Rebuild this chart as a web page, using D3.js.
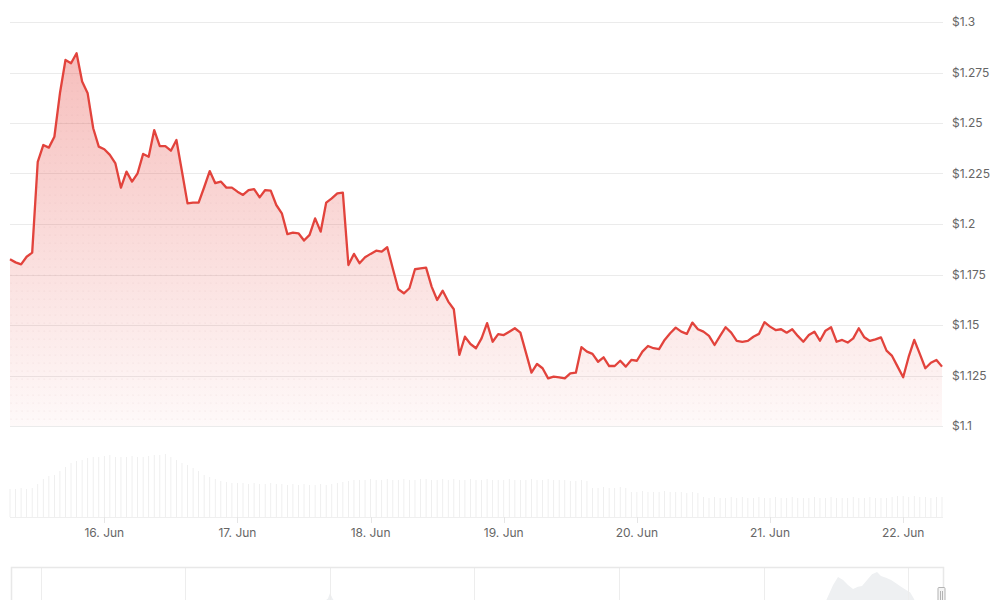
<!DOCTYPE html>
<html>
<head>
<meta charset="utf-8">
<script src="https://cdn.jsdelivr.net/npm/d3@7"></script>
<style>
  body { margin: 0; background: #fff; }
  svg { display: block; font-family: Inter, "Noto Sans", sans-serif; }
</style>
</head>
<body>
<div id="svg-area"></div>
<script>
var svgWidth = 1000;
var svgHeight = 600;

// hourly samples, first one at 15 Jun 07:00 UTC
var startTime = Date.UTC(2025, 5, 15, 7);

var prices = [
  1.1825, 1.181, 1.180, 1.1838, 1.1858, 1.2308, 1.2391, 1.2378, 1.2432, 1.2647,
  1.2812, 1.2796, 1.2845, 1.2705, 1.2647, 1.2474, 1.2383, 1.237, 1.2342, 1.230,
  1.218, 1.2259, 1.221, 1.2251, 1.2347, 1.2333, 1.2465, 1.2386, 1.2386, 1.2363,
  1.2416, 1.226, 1.2102, 1.2106, 1.2106, 1.2182, 1.2262, 1.2202, 1.221, 1.218,
  1.218, 1.216, 1.2144, 1.2168, 1.2173, 1.2132, 1.2168, 1.2165, 1.2094, 1.2053,
  1.195, 1.1957, 1.1954, 1.1918, 1.1946, 1.2028, 1.1962, 1.2106, 1.2127, 1.2152,
  1.2155, 1.1797, 1.1852, 1.1806, 1.1835, 1.1852, 1.1868, 1.1863, 1.1885, 1.178,
  1.1677, 1.1657, 1.1682, 1.1776, 1.178, 1.1784, 1.169, 1.1624, 1.167, 1.1616,
  1.1578, 1.1352, 1.1442, 1.1406, 1.1385, 1.1434, 1.1509, 1.1417, 1.1455, 1.145,
  1.1467, 1.1484, 1.1462, 1.1363, 1.1264, 1.1307, 1.1286, 1.1236, 1.1244, 1.1241,
  1.1236, 1.1261, 1.1264, 1.139, 1.1368, 1.1357, 1.1318, 1.134, 1.1297, 1.1297,
  1.1323, 1.1294, 1.1327, 1.1323, 1.1368, 1.1396, 1.1385, 1.1381, 1.1426, 1.1459,
  1.1487, 1.1467, 1.1456, 1.1512, 1.1479, 1.1467, 1.1446, 1.1401, 1.1446, 1.1489,
  1.1462, 1.1421, 1.1417, 1.1421, 1.1442, 1.1456, 1.1514, 1.1492, 1.1475, 1.1479,
  1.1462, 1.1479, 1.1446, 1.1417, 1.145, 1.1467, 1.1422, 1.1472, 1.1489, 1.1417,
  1.1426, 1.1413, 1.1434, 1.1484, 1.1439, 1.1421, 1.1429, 1.1439, 1.1373, 1.1347,
  1.1294, 1.1241, 1.1343, 1.1426, 1.1357, 1.1286, 1.1313, 1.1327, 1.1294
];

// volume (M), same hours as prices
var volumes = [
  28, 28, 29, 28, 29, 33, 38, 41, 42, 46,
  50, 54, 56, 57, 59, 60, 60, 61, 62, 60,
  60, 60, 61, 60, 60, 61, 62, 62, 63, 60,
  57, 54, 52, 49, 46, 42, 40, 38, 36, 35,
  34, 34, 34, 33, 34, 33, 33, 34, 33, 33,
  32, 33, 32, 33, 32, 32, 33, 32, 33, 34,
  35, 36, 37, 37, 37, 38, 37, 37, 38, 37,
  37, 38, 37, 37, 38, 38, 37, 37, 38, 37,
  38, 37, 37, 38, 37, 37, 38, 37, 37, 37,
  38, 37, 37, 37, 38, 37, 37, 38, 37, 37,
  37, 36, 36, 37, 36, 29, 29, 30, 29, 29,
  30, 29, 25, 25, 26, 25, 25, 25, 26, 25,
  25, 25, 24, 25, 24, 20, 19, 20, 19, 19,
  20, 19, 20, 19, 19, 20, 19, 19, 20, 19,
  19, 20, 19, 19, 19, 20, 19, 19, 20, 19,
  19, 19, 20, 19, 19, 20, 19, 19, 19, 20,
  21, 21, 20, 21, 20, 20, 19, 20, 20
];

var priceTicks = [1.1, 1.125, 1.15, 1.175, 1.2, 1.225, 1.25, 1.275, 1.3];
var dayTicks = ["2025-06-16", "2025-06-17", "2025-06-18", "2025-06-19", "2025-06-20", "2025-06-21", "2025-06-22"];

// navigator: long history (fractional years) and its grid
var navYears = [2018.795, 2020.10, 2020.93, 2020.987, 2021.001, 2021.022, 2021.07, 2022.18, 2023.56, 2024.39,
  2024.431, 2024.48, 2024.514, 2024.549, 2024.583, 2024.618, 2024.652, 2024.68, 2024.715, 2024.749,
  2024.784, 2024.811, 2024.846, 2024.881, 2024.915, 2024.95, 2024.985, 2025.012, 2025.033, 2025.054,
  2025.116, 2025.24];
var navValues = [0.1, 0.1, 0.15, 0.3, 0.42, 0.28, 0.15, 0.1, 0.1, 0.12,
  0.25, 0.6, 0.78, 0.71, 0.6, 0.51, 0.56, 0.58, 0.71, 0.84,
  0.89, 0.8, 0.76, 0.71, 0.64, 0.56, 0.49, 0.44, 0.33, 0.2,
  0.1, 0.1];
var navGrid = [2019, 2020, 2021, 2022, 2023, 2024, 2025];

var data = prices.map(function(p, i) {
  return { date: new Date(startTime + i * 3600e3), price: p, volume: volumes[i] };
});

var svg = d3.select("#svg-area")
  .append("svg")
  .attr("width", svgWidth)
  .attr("height", svgHeight);

var left = 10, right = 942;

var x = d3.scaleUtc()
  .domain([data[0].date, data[data.length - 1].date])
  .range([left, right]);

var y = d3.scaleLinear().domain([1.1, 1.3]).range([426, 22]);
var yVol = d3.scaleLinear().domain([0, 65]).range([517, 452]);

var defs = svg.append("defs");
var grad = defs.append("linearGradient")
  .attr("id", "fillGrad")
  .attr("gradientUnits", "userSpaceOnUse")
  .attr("x1", 0).attr("x2", 0)
  .attr("y1", y(1.285)).attr("y2", y(1.1));
grad.append("stop").attr("offset", 0).attr("stop-color", "#e5403a").attr("stop-opacity", 0.34);
grad.append("stop").attr("offset", 1).attr("stop-color", "#e5403a").attr("stop-opacity", 0.03);

var dots = defs.append("pattern")
  .attr("id", "dots")
  .attr("patternUnits", "userSpaceOnUse")
  .attr("x", left).attr("y", 2)
  .attr("width", x(data[1].date) - x(data[0].date))
  .attr("height", 8);
dots.append("circle").attr("cx", 1).attr("cy", 1).attr("r", 0.6).attr("fill", "rgba(160,110,110,0.16)");

// grid + price axis labels
var grid = svg.append("g");
grid.selectAll("line")
  .data(priceTicks)
  .enter().append("line")
  .attr("x1", left).attr("x2", right + 1)
  .attr("y1", function(d) { return Math.round(y(d)) + 0.5; })
  .attr("y2", function(d) { return Math.round(y(d)) + 0.5; })
  .attr("stroke", "#ebebeb");

grid.selectAll("text")
  .data(priceTicks)
  .enter().append("text")
  .attr("x", 952)
  .attr("y", function(d) { return y(d); })
  .attr("dy", "0.35em")
  .attr("font-size", 12)
  .attr("fill", "#666")
  .text(function(d) { return "$" + (+d.toFixed(3)); });

// area + line
var area = d3.area()
  .x(function(d) { return x(d.date); })
  .y0(y(1.1))
  .y1(function(d) { return y(d.price); });

svg.append("path").datum(data).attr("d", area).attr("fill", "url(#fillGrad)");
svg.append("path").datum(data).attr("d", area).attr("fill", "url(#dots)");

var line = d3.line()
  .x(function(d) { return x(d.date); })
  .y(function(d) { return y(d.price); });

svg.append("path").datum(data)
  .attr("d", line)
  .attr("fill", "none")
  .attr("stroke", "#e2433c")
  .attr("stroke-width", 2.3)
  .attr("stroke-linejoin", "round");

// volume bars
svg.append("g").selectAll("rect")
  .data(data)
  .enter().append("rect")
  .attr("x", function(d) { return x(d.date) - 0.4; })
  .attr("width", 0.8)
  .attr("y", function(d) { return yVol(d.volume); })
  .attr("height", function(d) { return yVol(0) - yVol(d.volume); })
  .attr("fill", "#ebebeb");

svg.append("line")
  .attr("x1", left).attr("x2", right + 1)
  .attr("y1", yVol(0) + 0.5).attr("y2", yVol(0) + 0.5)
  .attr("stroke", "#efefef");

// x axis
var days = dayTicks.map(function(s) { return new Date(s + "T00:00:00Z"); });
var xAxis = svg.append("g");
xAxis.selectAll("line")
  .data(days)
  .enter().append("line")
  .attr("x1", function(d) { return Math.round(x(d)) + 0.5; })
  .attr("x2", function(d) { return Math.round(x(d)) + 0.5; })
  .attr("y1", yVol(0)).attr("y2", yVol(0) + 6)
  .attr("stroke", "#e6e6e6");
xAxis.selectAll("text")
  .data(days)
  .enter().append("text")
  .attr("x", function(d) { return x(d); })
  .attr("y", 537)
  .attr("text-anchor", "middle")
  .attr("font-size", 12)
  .attr("fill", "#666")
  .text(d3.utcFormat("%-d. %b"));

// navigator
var navX = d3.scaleLinear().domain([2018.795, 2025.24]).range([11, 943]);
var navY = d3.scaleLinear().domain([0, 1]).range([612, 567]);
var nav = svg.append("g");

nav.append("path")
  .datum(navYears)
  .attr("d", d3.area()
    .x(function(d) { return navX(d); })
    .y0(navY(0))
    .y1(function(d, i) { return navY(navValues[i]); }))
  .attr("fill", "#eef0f2");

nav.selectAll("line.grid")
  .data(navGrid)
  .enter().append("line")
  .attr("class", "grid")
  .attr("x1", function(d) { return Math.round(navX(d)) + 0.5; })
  .attr("x2", function(d) { return Math.round(navX(d)) + 0.5; })
  .attr("y1", navY(1)).attr("y2", svgHeight)
  .attr("stroke", "#ededed");

nav.append("path")
  .attr("d", "M" + (navX(2018.795) + 0.5) + "," + svgHeight + "V" + (navY(1) + 0.5) +
    "H" + (navX(2025.24) + 0.5) + "V" + svgHeight)
  .attr("fill", "none")
  .attr("stroke", "#e8e8e8")
  .attr("stroke-width", 1.5);

var hx = Math.round(navX(2025.24)) - 1.5;
nav.append("rect")
  .attr("x", hx - 3.5).attr("y", 587.5)
  .attr("width", 7).attr("height", 16)
  .attr("rx", 1)
  .attr("fill", "#f4f4f4")
  .attr("stroke", "#b3b3b3");
nav.selectAll("line.handle")
  .data([-1, 1])
  .enter().append("line")
  .attr("class", "handle")
  .attr("x1", function(d) { return hx + d; })
  .attr("x2", function(d) { return hx + d; })
  .attr("y1", 591).attr("y2", 600)
  .attr("stroke", "#b3b3b3");
</script>
</body>
</html>
